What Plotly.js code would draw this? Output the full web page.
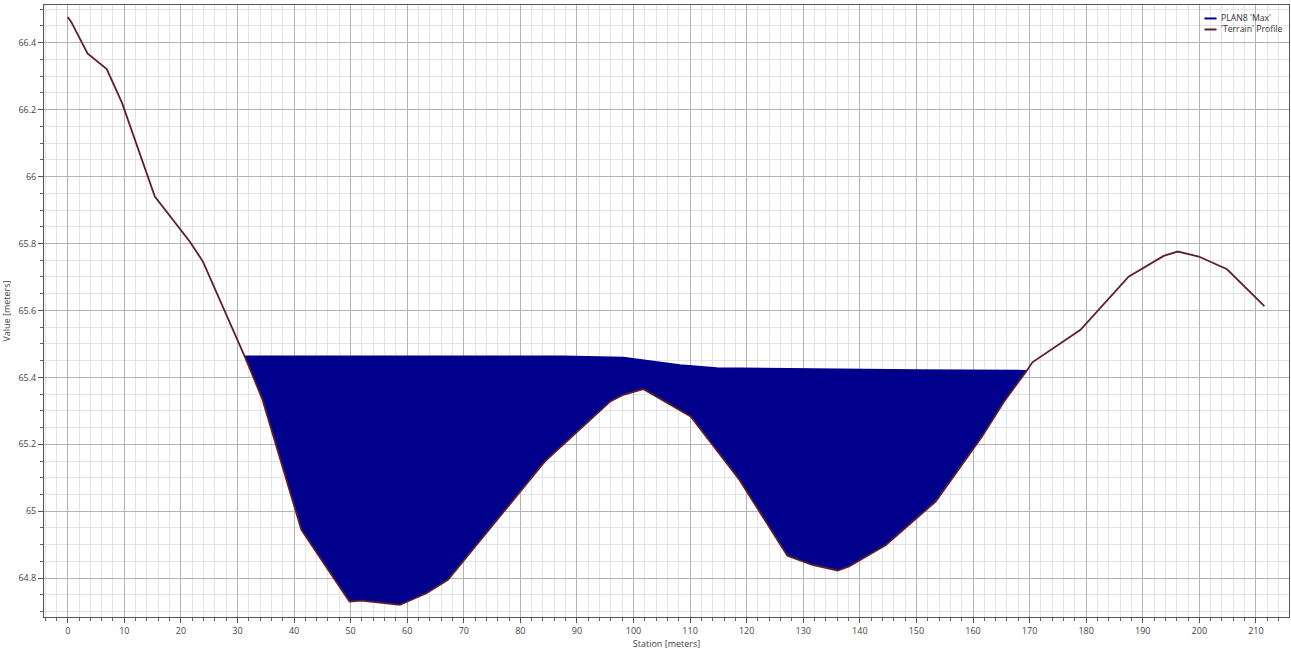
<!DOCTYPE html>
<html>
<head>
<meta charset="utf-8">
<script src="https://cdn.plot.ly/plotly-3.0.1.min.js"></script>
<style>
html,body{margin:0;padding:0;background:#fff;}
#chart{width:1291px;height:652px;}
</style>
</head>
<body>
<div id="chart"></div>
<script>
// Terrain profile (station in m, elevation in m)
const terrainStation = [0, 0.6, 3.5, 6.9, 9.6, 15.4, 21.6, 23.9, 31.3, 34.4, 41.3, 49.8, 51.9, 58.7, 63.4, 67.2,
  84.3, 87.5, 95.9, 98.2, 101.7, 110.1, 118.7, 127.2, 131.6, 136.1, 138.1, 144.6, 153.4, 161.6, 165.5, 169.5,
  170.5, 179.0, 187.5, 193.7, 196.2, 199.9, 204.9, 211.5];
const terrainElev = [66.477, 66.463, 66.368, 66.321, 66.220, 65.940, 65.805, 65.746, 65.462, 65.335, 64.944, 64.730, 64.733, 64.720, 64.755, 64.795,
  65.148, 65.198, 65.328, 65.348, 65.365, 65.283, 65.094, 64.867, 64.840, 64.823, 64.835, 64.899, 65.029, 65.223, 65.328, 65.420,
  65.445, 65.542, 65.701, 65.763, 65.776, 65.761, 65.723, 65.613];

// Water surface PLAN8 'Max'
const wsStation = [31.3, 87.6, 98.2, 102.9, 108.2, 114.7, 130.0, 150.0, 169.5];
const wsElev = [65.463, 65.463, 65.459, 65.449, 65.437, 65.428, 65.425, 65.422, 65.420];

const seriesNames = ["PLAN8 'Max'", "'Terrain' Profile"];
const xTitle = 'Station [meters]';
const yTitle = 'Value [meters]';

// Fill polygon between water surface and terrain
const x0 = wsStation[0], x1 = wsStation[wsStation.length - 1];
const polyX = wsStation.slice(), polyY = wsElev.slice();
for (let i = terrainStation.length - 1; i >= 0; i--) {
  if (terrainStation[i] > x0 && terrainStation[i] < x1) {
    polyX.push(terrainStation[i]); polyY.push(terrainElev[i]);
  }
}
polyX.push(wsStation[0]); polyY.push(wsElev[0]);

const navy = '#00008c';
const maroon = '#5e1f2c';
const colors = [navy, maroon];

const traces = [
  {x: polyX, y: polyY, mode: 'lines', fill: 'toself', fillcolor: navy,
   line: {width: 0, color: navy}, showlegend: false, hoverinfo: 'skip'},
  {x: wsStation, y: wsElev, mode: 'lines', name: seriesNames[0], showlegend: false,
   line: {color: navy, width: 1.5}},
  {x: terrainStation, y: terrainElev, mode: 'lines', name: seriesNames[1], showlegend: false,
   line: {color: maroon, width: 1.8}}
];

const font9 = {family: 'Open Sans, Noto Sans, sans-serif', size: 9, color: '#444'};
const legFont = {family: 'Open Sans, Noto Sans, sans-serif', size: 8.7, color: '#333'};

// Compact legend (matches the reference's tight legend box)
const legendY = [0.978, 0.960];
const annotations = seriesNames.map((n, i) => ({
  xref: 'paper', yref: 'paper', x: 0.9440, y: legendY[i], xanchor: 'left', yanchor: 'middle',
  text: n, showarrow: false, font: legFont
}));
const shapes = seriesNames.map((n, i) => ({
  type: 'line', xref: 'paper', yref: 'paper', x0: 0.9321, x1: 0.9418, y0: legendY[i], y1: legendY[i],
  line: {color: colors[i], width: 2}
}));

const layout = {
  width: 1291, height: 652,
  margin: {l: 44, r: 2, t: 5, b: 35},
  paper_bgcolor: '#fff', plot_bgcolor: '#fff',
  font: font9,
  showlegend: false,
  annotations: annotations,
  shapes: shapes,
  xaxis: {
    range: [-4.19, 215.85], dtick: 10, tick0: 0,
    showgrid: true, gridcolor: '#b3b3b3', gridwidth: 1,
    ticks: 'outside', ticklen: 5, tickcolor: '#555',
    showline: true, linecolor: '#555', linewidth: 1, mirror: true,
    zeroline: false, tickfont: font9,
    minor: {dtick: 2, showgrid: true, gridcolor: '#e3e3e3', ticks: 'outside', ticklen: 3, tickcolor: '#666'},
    title: {text: xTitle, font: font9, standoff: 2}
  },
  yaxis: {
    range: [64.684, 66.5126], dtick: 0.2, tick0: 64.8,
    showgrid: true, gridcolor: '#b3b3b3', gridwidth: 1,
    ticks: 'outside', ticklen: 5, tickcolor: '#555',
    showline: true, linecolor: '#555', linewidth: 1, mirror: true,
    zeroline: false, tickfont: font9,
    minor: {dtick: 0.05, showgrid: true, gridcolor: '#e3e3e3', ticks: 'outside', ticklen: 3, tickcolor: '#666'},
    title: {text: yTitle, font: font9, standoff: 8}
  }
};

Plotly.newPlot('chart', traces, layout, {displayModeBar: false, staticPlot: true});
</script>
</body>
</html>
